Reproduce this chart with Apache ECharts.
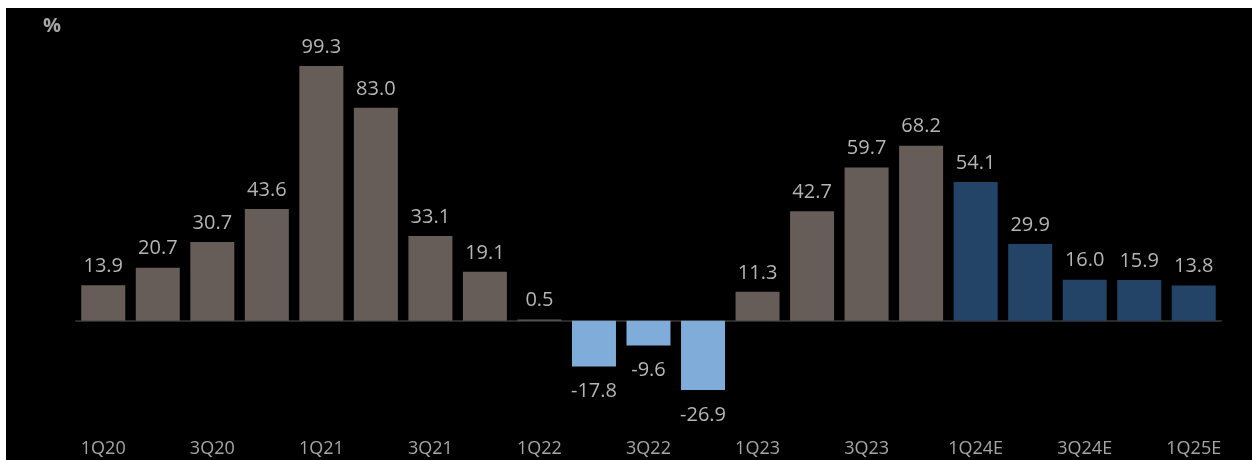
<!DOCTYPE html>
<html><head><meta charset="utf-8">
<script src="https://cdn.jsdelivr.net/npm/echarts@6/dist/echarts.min.js"></script>
<style>
html,body{margin:0;padding:0;background:#fff;width:1252px;height:460px;overflow:hidden;}
#c{position:absolute;left:6px;top:8px;width:1246px;height:452px;background:#000;}
</style></head>
<body><div id="c"></div>
<script>
const categories = ['1Q20','2Q20','3Q20','4Q20','1Q21','2Q21','3Q21','4Q21','1Q22','2Q22','3Q22','4Q22','1Q23','2Q23','3Q23','4Q23','1Q24E','2Q24E','3Q24E','4Q24E','1Q25E'];
const values = [13.9,20.7,30.7,43.6,99.3,83.0,33.1,19.1,0.5,-17.8,-9.6,-26.9,11.3,42.7,59.7,68.2,54.1,29.9,16.0,15.9,13.8];
const unitLabel = '%';
const estimateFrom = 16;

const colHist = '#665d58', colNeg = '#80acd9', colEst = '#234467';
const chart = echarts.init(document.getElementById('c'));
chart.setOption({
  backgroundColor: '#000',
  animation: false,
  textStyle: {fontFamily: 'Open Sans'},
  grid: {left: 70, width: 1145, top: 30.5, height: 385, containLabel: false, outerBoundsMode: 'none'},
  graphic: [{type: 'text', left: 37, top: 8, style: {text: unitLabel, fill: '#a6a6a6', font: 'bold 20px Open Sans'}}],
  xAxis: {
    type: 'category', data: categories,
    axisLine: {show: true, onZero: true, lineStyle: {color: '#2a2a2a', width: 2}},
    axisTick: {show: false},
    axisLabel: {interval: 1, color: '#a6a6a6', fontSize: 18, margin: 16},
  },
  yAxis: {type: 'value', min: -40, max: 110, show: false, splitLine: {show: false}},
  series: [{
    type: 'bar', barWidth: 44,
    data: values.map((v, i) => ({
      value: v,
      itemStyle: {color: i >= estimateFrom ? colEst : (v < 0 ? colNeg : colHist)},
      label: {position: v < 0 ? 'bottom' : 'top', distance: v < 0 ? 15 : 9}
    })),
    label: {show: true, color: '#b5b5b5', fontSize: 20, formatter: p => p.value.toFixed(1)}
  }]
});
</script></body></html>
